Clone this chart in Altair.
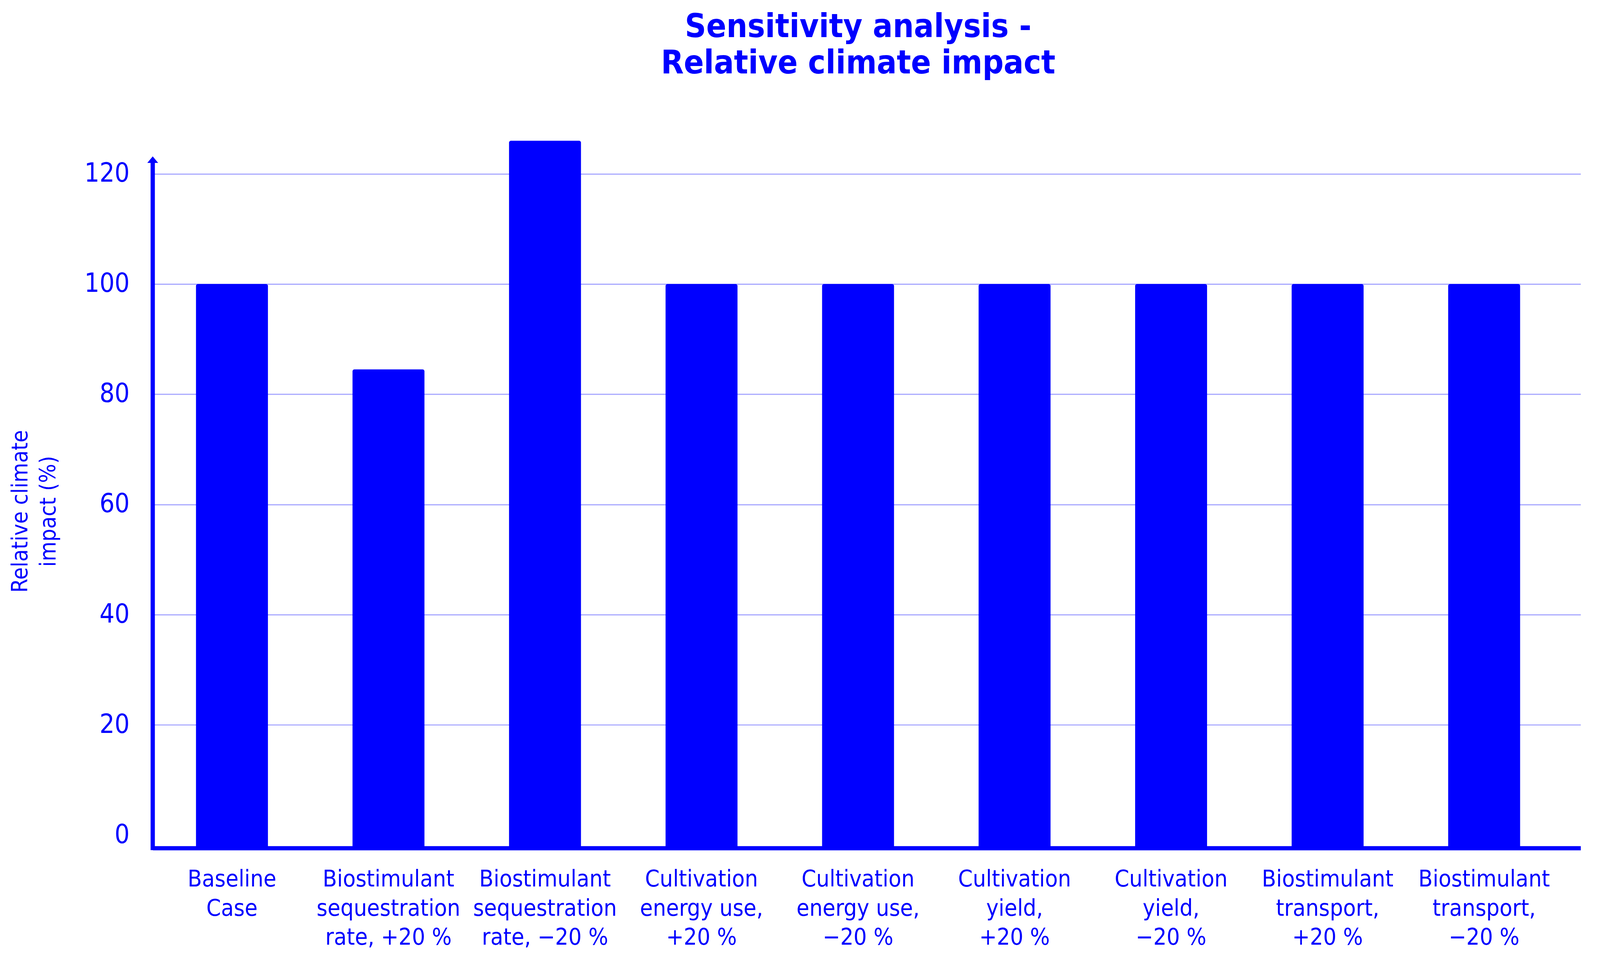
import altair as alt
import pandas as pd

categories = [
    "Baseline\nCase",
    "Biostimulant\nsequestration\nrate, +20 %",
    "Biostimulant\nsequestration\nrate, −20 %",
    "Cultivation\nenergy use,\n+20 %",
    "Cultivation\nenergy use,\n−20 %",
    "Cultivation\nyield,\n+20 %",
    "Cultivation\nyield,\n−20 %",
    "Biostimulant\ntransport,\n+20 %",
    "Biostimulant\ntransport,\n−20 %",
]
values = [100, 84.5, 126, 100, 100, 100, 100, 100, 100]
y_ticks = [0, 20, 40, 60, 80, 100, 120]
title_lines = ["Sensitivity analysis -", "Relative climate impact"]
y_title_lines = ["Relative climate", "impact (%)"]

BLUE = "#0000ff"
FONT = "DejaVu Sans Condensed"
Y_MIN, Y_MAX = -2.36, 128
ARROW_Y = 122.57
ARROW_BASE = 121.9

df = pd.DataFrame({"scenario": categories, "value": values})
y_scale = alt.Scale(domain=[Y_MIN, Y_MAX], nice=False, zero=False)

x_enc = alt.X(
    "scenario:N",
    sort=categories,
    scale=alt.Scale(paddingInner=0.5404, paddingOuter=0.3314, align=0.417),
    axis=alt.Axis(
        title=None,
        labelAngle=0,
        labelExpr="split(datum.label, '\\n')",
        labelFont=FONT,
        labelFontSize=60,
        labelColor=BLUE,
        labelLineHeight=75,
        labelPadding=52,
        labelLimit=0,
        ticks=False,
        tickSize=0,
        domain=True,
        domainColor=BLUE,
        domainWidth=11,
        grid=False,
    ),
)

y_axis = alt.Axis(
    title=y_title_lines,
    values=y_ticks,
    domain=False,
    ticks=False,
    tickSize=0,
    labelFont=FONT,
    labelFontSize=68,
    labelColor=BLUE,
    labelPadding=60,
    grid=True,
    gridColor="#a8a8ff",
    gridWidth=3,
    gridOpacity={"condition": {"test": "datum.value === 0", "value": 0}, "value": 1},
    titleFont=FONT,
    titleFontSize=58,
    titleFontWeight="normal",
    titleColor=BLUE,
    titleLineHeight=73,
    titleX=-341,
    titleY=984,
    titleAlign="center",
    titleBaseline="middle",
    titleAngle=270,
)

bars = alt.Chart(df).mark_bar(
    color=BLUE, cornerRadiusTopLeft=5, cornerRadiusTopRight=5
).encode(
    x=x_enc,
    y=alt.Y("value:Q", scale=y_scale, axis=y_axis),
    y2=alt.datum(Y_MIN),
)

axis_df = pd.DataFrame({"y0": [Y_MIN], "y1": [ARROW_BASE], "ya": [ARROW_Y]})

y_line = alt.Chart(axis_df).mark_rule(
    color=BLUE, strokeWidth=11, strokeCap="square"
).encode(
    x=alt.value(0),
    y=alt.Y("y0:Q", scale=y_scale),
    y2="y1:Q",
)

arrow = alt.Chart(axis_df).mark_point(
    shape="M-1,0.6L0,-0.6L1,0.6Z", size=784, filled=True, color=BLUE, opacity=1, strokeWidth=0
).encode(
    x=alt.value(0),
    y=alt.Y("ya:Q", scale=y_scale),
)

chart = alt.layer(bars, y_line, arrow).properties(
    width=3684,
    height=1853,
    padding={"left": 386, "top": 317, "right": 42, "bottom": 284},
    autosize=alt.AutoSizeParams(type="none"),
    background="white",
    title=alt.TitleParams(
        text=title_lines,
        font=FONT,
        fontSize=85,
        fontWeight="bold",
        color=BLUE,
        anchor="middle",
        frame="group",
        offset=127,
        lineHeight=94,
        dx=-22,
    ),
).configure_view(stroke=None)

chart.save("out.html", embed_options={"renderer": "svg", "actions": False})
